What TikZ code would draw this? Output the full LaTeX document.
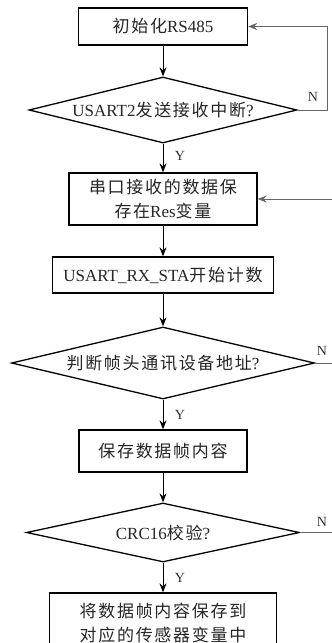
\documentclass[tikz,border=0pt]{standalone}
\usepackage{fontspec}
\setmainfont{Liberation Serif}
\newfontfamily\cjk[LetterSpace=10]{Noto Sans CJK SC}
\usetikzlibrary{arrows.meta,shapes.geometric}
\begin{document}
\begin{tikzpicture}[x=1pt,y=-1pt,
  box/.style={draw=black,line width=1.3pt,rectangle,inner sep=0pt,align=center,
    font=\fontsize{17}{24}\selectfont,text=black!85},
  dia/.style={draw=black,line width=1.3pt,diamond,inner sep=0pt,align=center,
    font=\fontsize{17}{24}\selectfont,text=black!85},
  arr/.style={line width=1pt,-{Stealth[length=9pt,width=7pt]}},
  back/.style={line width=0.8pt,draw=black!60},
  backarr/.style={line width=0.8pt,draw=black!60,-{Stealth[length=9pt,width=7pt]},color=black!60},
  lab/.style={font=\fontsize{14}{14}\selectfont,text=black!80,inner sep=0pt}]
\useasboundingbox (0,0) rectangle (332,643);
\clip (0,0) rectangle (332,643);
\fill[white] (0,0) rectangle (332,643);

\node[box,minimum width=169pt,minimum height=37pt] (b1) at (163,26.5) {{\cjk 初始化}RS485};
\node[dia,aspect=4.06,minimum width=268pt,minimum height=66pt] (d1) at (163,110) {USART2{\cjk 发送接收中断}?};
\node[box,minimum width=188pt,minimum height=52pt] (b2) at (163,199) {{\cjk 串口接收的数据保}\\{\cjk 存在}Res{\cjk 变量}};
\node[box,minimum width=221pt,minimum height=36pt] (b3) at (163,275) {USART\_RX\_STA{\cjk 开始计数}};
\node[dia,aspect=4.2,minimum width=303pt,minimum height=72pt] (d2) at (163,363) {{\cjk 判断帧头通讯设备地址}?};
\node[box,minimum width=168pt,minimum height=42pt] (b4) at (163,451) {{\cjk 保存数据帧内容}};
\node[dia,aspect=4.6,minimum width=273pt,minimum height=59pt] (d3) at (163,532.5) {CRC16{\cjk 校验}?};
\node[box,minimum width=227pt,minimum height=60pt] (b5) at (163,623) {{\cjk 将数据帧内容保存到}\\{\cjk 对应的传感器变量中}};

\draw[arr] (b1) -- (d1);
\draw[arr] (d1) -- (b2);
\draw[arr] (b2) -- (b3);
\draw[arr] (b3) -- (d2);
\draw[arr] (d2) -- (b4);
\draw[arr] (b4) -- (d3);
\draw[arr] (d3) -- (b5);

\coordinate (r1) at (327,110);
\draw[backarr] (d1.east) -- (r1) |- (b1.east);
\coordinate (e2) at (333,199);
\draw[backarr] (e2) -- (b2.east);
\coordinate (e3) at (333,363);
\draw[back] (d2.east) -- (e3);
\coordinate (e4) at (333,532.5);
\draw[back] (d3.east) -- (e4);

\node[lab] (n1) at (313,97) {N};
\node[lab] (n2) at (322,351) {N};
\node[lab] (n3) at (322,522) {N};
\node[lab] (y1) at (180,156) {Y};
\node[lab] (y2) at (180,415) {Y};
\node[lab] (y3) at (180,578) {Y};
\end{tikzpicture}
\end{document}
